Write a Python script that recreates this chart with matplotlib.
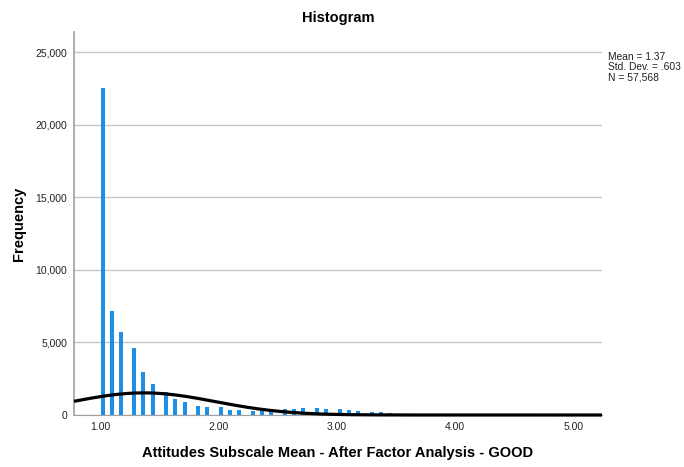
import numpy as np
import matplotlib
matplotlib.use("Agg")
import matplotlib.pyplot as plt

plt.rcParams['font.family'] = ['Liberation Sans', 'DejaVu Sans']

# Bin centres (scale mean) and counts for the non-empty bins
bin_centers = [1.023, 1.099, 1.175, 1.290, 1.366, 1.445, 1.560, 1.637, 1.716,
               1.831, 1.907, 2.025, 2.099, 2.177, 2.296, 2.372, 2.448, 2.564,
               2.640, 2.718, 2.832, 2.910, 3.029, 3.105, 3.181, 3.297, 3.375,
               3.451, 3.564, 3.643, 3.722, 3.840]
counts = [22500, 7180, 5700, 4640, 2980, 2110, 1580, 1100, 870,
          620, 530, 530, 340, 340, 300, 300, 200, 390,
          390, 480, 460, 410, 390, 320, 280, 230, 200,
          160, 100, 100, 80, 50]

mean_val = 1.37
std_val = 0.603
n_total = 57568
bin_width = 0.04

x_ticks = [1, 2, 3, 4, 5]
x_tick_labels = ["1.00", "2.00", "3.00", "4.00", "5.00"]
y_ticks = [0, 5000, 10000, 15000, 20000, 25000]
y_tick_labels = ["0", "5,000", "10,000", "15,000", "20,000", "25,000"]

fig = plt.figure(figsize=(6.84, 4.67), dpi=100)
ax = fig.add_axes([74 / 684, 52 / 467, 528 / 684, 383 / 467])

xmin, xmax = 0.78, 5.243
ax.set_xlim(xmin, xmax)
ax.set_ylim(0, 26380)

ax.set_axisbelow(True)
ax.yaxis.grid(True, color='#c8c8c8', linewidth=1.0)
ax.xaxis.grid(False)

ax.bar(bin_centers, counts, width=0.033, color='#1f8fe5', edgecolor='none', zorder=2)

# Normal curve scaled to the histogram
xs = np.linspace(xmin, xmax, 600)
ys = n_total * bin_width / (std_val * np.sqrt(2 * np.pi)) * np.exp(-0.5 * ((xs - mean_val) / std_val) ** 2)
ax.plot(xs, ys, color='black', linewidth=2.3, zorder=3, clip_on=False, solid_capstyle='butt')

ax.set_xticks(x_ticks)
ax.set_xticklabels(x_tick_labels, fontsize=7.5)
ax.set_yticks(y_ticks)
ax.set_yticklabels(y_tick_labels, fontsize=7.5)
ax.tick_params(axis='both', length=0, pad=5, colors='#222222')

for side in ['top', 'right']:
    ax.spines[side].set_visible(False)
ax.spines['left'].set_color('#a0a0a0')
ax.spines['left'].set_linewidth(1.2)
ax.spines['bottom'].set_color('#a0a0a0')

ax.set_xlabel("Attitudes Subscale Mean - After Factor Analysis - GOOD",
              fontsize=10.5, fontweight='bold', labelpad=10)
ax.set_ylabel("Frequency", fontsize=10.5, fontweight='bold', labelpad=7)
fig.text(338 / 684, 1 - 18 / 467, "Histogram", ha='center', va='center',
         fontsize=10.5, fontweight='bold')

fig.text(608 / 684, 1 - 52 / 467,
         f"Mean = {mean_val:.2f}\nStd. Dev. = .603\nN = {n_total:,}",
         ha='left', va='top', fontsize=7.4, linespacing=1.0, color='#222222')

fig.savefig("out.png", dpi=100)
